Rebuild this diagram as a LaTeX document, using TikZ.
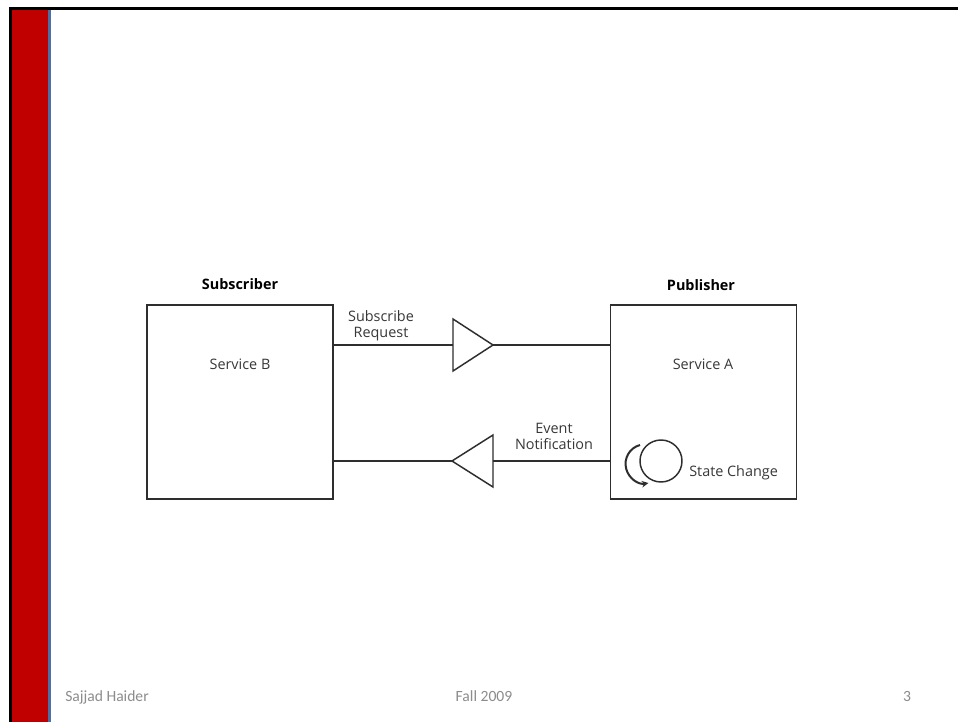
\documentclass[tikz,border=0pt]{standalone}
\usepackage{fontspec}
\setmainfont{Carlito}
\newfontfamily\diagfont{Open Sans}
\usetikzlibrary{arrows.meta}
\definecolor{barred}{HTML}{C00000}
\definecolor{barblue}{HTML}{4F6FA3}
\definecolor{footgray}{HTML}{8C8C8C}
\definecolor{linegray}{HTML}{2E2E2E}
\begin{document}
\begin{tikzpicture}[x=0.75pt,y=-0.75pt,
  box/.style={draw=linegray,line width=1.3pt,minimum width=186*0.75pt,minimum height=194*0.75pt,inner sep=0pt,outer sep=0pt},
  lbl/.style={font=\diagfont\fontsize{10.8}{12}\selectfont,text=black!78,align=center,inner sep=0pt},
  head/.style={font=\diagfont\bfseries\fontsize{10.8}{12}\selectfont,text=black,inner sep=0pt},
  conn/.style={draw=linegray,line width=1.1pt},
  foot/.style={font=\fontsize{11.7}{13}\selectfont,text=footgray,inner sep=0pt,anchor=base}]
\useasboundingbox (0,0) rectangle (958,722);
\fill[white] (0,0) rectangle (958,722);
% slide frame
\fill[black] (9,7) rectangle (958,9.5);
\fill[black] (9,7) rectangle (11.5,722);
\fill[barred] (11.5,9.5) rectangle (48,722);
\fill[barblue] (48,9.5) rectangle (50.5,722);
% boxes
\node[box] (sub) at (240,402) {};
\node[box] (pub) at (703.5,402) {};
\node[head] (subh) at (240,284) {Subscriber};
\node[head] (pubh) at (701,285) {Publisher};
\node[lbl] (svb) at (240,364) {Service B};
\node[lbl] (sva) at (703,364) {Service A};
% top channel
\coordinate (t1a) at (453,319);
\coordinate (t1b) at (453,371);
\coordinate (t1tip) at (493,345);
\draw[conn] (sub.east |- t1tip) -- (t1a |- t1tip);
\draw[conn,line join=miter] (t1a) -- (t1tip) -- (t1b) -- cycle;
\draw[conn] (t1tip) -- (pub.west |- t1tip);
\node[lbl] (subreq) at (381,326) {Subscribe\\Request};
% bottom channel
\coordinate (t2a) at (493,435);
\coordinate (t2b) at (493,487);
\coordinate (t2tip) at (452,461);
\draw[conn] (sub.east |- t2tip) -- (t2tip);
\draw[conn,line join=miter] (t2a) -- (t2tip) -- (t2b) -- cycle;
\draw[conn] (t2a |- t2tip) -- (pub.west |- t2tip);
\node[lbl] (evn) at (554,436) {Event\\Notification};
% state change icon
\node[draw=linegray,line width=1.1pt,circle,minimum size=42*0.75pt,inner sep=0pt] (circ) at (661,461) {};
\coordinate (arcstart) at (640,445);
\draw[draw=linegray,line width=1.5pt,-{Stealth[length=5pt,width=5pt]}] (arcstart) arc[start angle=255,end angle=80,radius=19.5];
\node[lbl,anchor=west] (stc) at (689,473) {State Change};
% footer
\node[foot,anchor=base west] (fl) at (65,701) {Sajjad Haider};
\node[foot] (fc) at (484,701) {Fall 2009};
\node[foot] (fr) at (907,701) {3};
\end{tikzpicture}
\end{document}
